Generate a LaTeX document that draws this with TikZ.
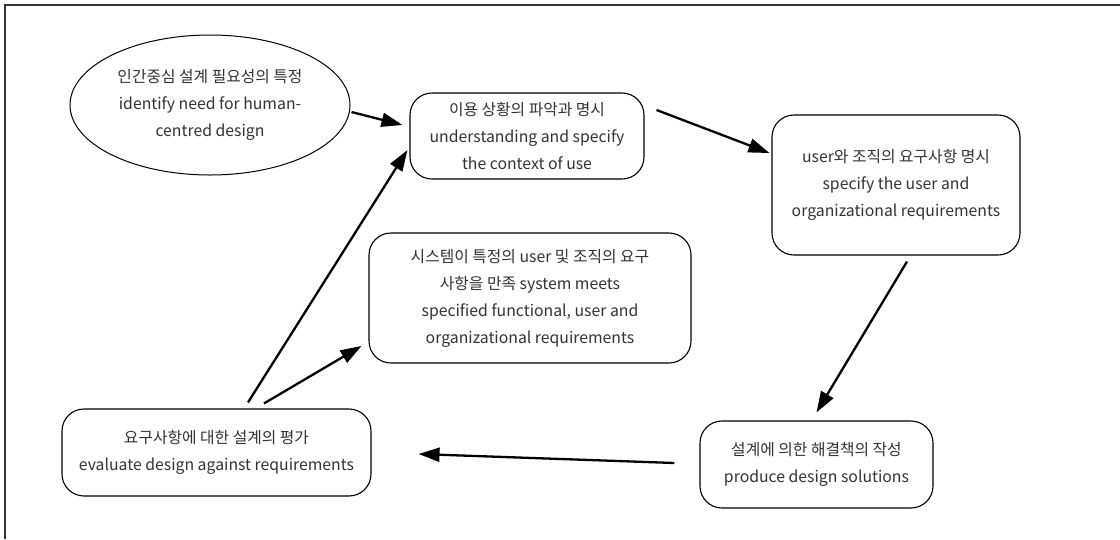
\documentclass[tikz,border=0pt]{standalone}
\usepackage{fontspec}
\setmainfont{Noto Sans CJK KR}
\usetikzlibrary{arrows.meta,calc,shapes.geometric}
\tikzset{
  box/.style={draw=black,line width=1.1pt,rounded corners=22pt,align=center,
    font=\fontsize{15.8}{27}\selectfont,text=black!80,inner sep=0pt},
  oval/.style={draw=black,line width=1pt,ellipse,align=center,
    font=\fontsize{15.8}{27}\selectfont,text=black!80,inner sep=0pt},
  arr/.style={line width=2.3pt,-{Triangle[length=21pt,width=14pt]}},
  frame/.style={line width=1.8pt,black!80}
}
\begin{document}
\begin{tikzpicture}[x=1pt,y=-1pt]
\useasboundingbox (0,0) rectangle (1120,539);
\draw[frame] (5,539) -- (5,5) -- (1120,5);
\node[oval,minimum width=280pt,minimum height=140pt] (ell) at (210,105)
  {인간중심 설계 필요성의 특정\\identify need for human-\\centred design};
\node[box,minimum width=234pt,minimum height=86pt] (A) at (527,136)
  {이용 상황의 파악과 명시\\understanding and specify\\the context of use};
\node[box,minimum width=248pt,minimum height=140pt] (B) at (896,185)
  {user와 조직의 요구사항 명시\\specify the user and\\organizational requirements};
\node[box,minimum width=322pt,minimum height=130pt] (C) at (530,298)
  {시스템이 특정의 user 및 조직의 요구\\사항을 만족 system meets\\specified functional, user and\\organizational requirements};
\node[box,minimum width=309pt,minimum height=87pt] (D) at (216.5,452.5)
  {요구사항에 대한 설계의 평가\\evaluate design against requirements};
\node[box,minimum width=233pt,minimum height=87pt] (E) at (816.5,464.5)
  {설계에 의한 해결책의 작성\\produce design solutions};
\draw[arr] ($(ell.east)+(1,7)$) -- ($(A.west)+(-7,-11)$);
\draw[arr] ($(A.east)+(12,-26)$) -- ($(B.west)+(-2,-32)$);
\draw[arr] ($(B.south)+(11,6)$) -- ($(E.north)+(0,-8)$);
\draw[arr] ($(E.west)+(-25,-1.5)$) -- ($(D.east)+(47,1.5)$);
\draw[arr] ($(D.north)+(31.5,-6)$) -- ($(A.west)+(-2,14)$);
\draw[arr] ($(D.north)+(47.5,-5)$) -- ($(C.west)+(-7,48)$);
\end{tikzpicture}
\end{document}
